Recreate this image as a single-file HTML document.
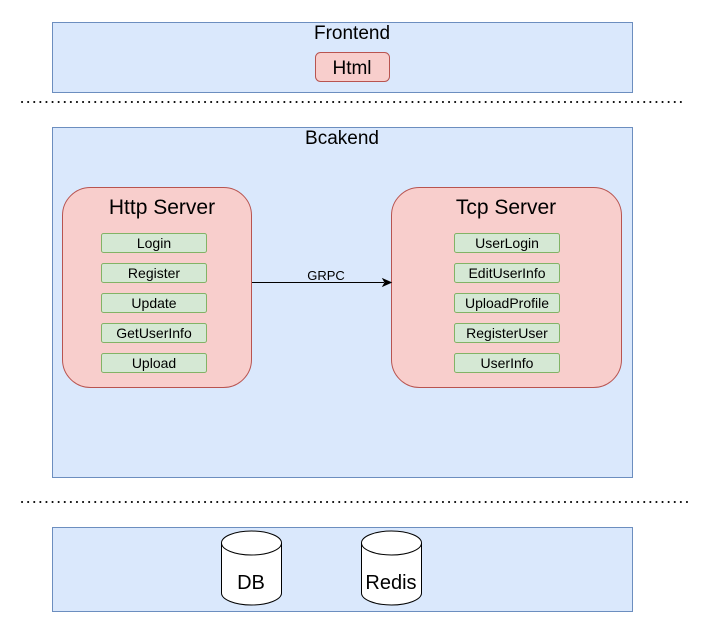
<!DOCTYPE html>
<html><head><meta charset="utf-8"><style>
body{margin:0;background:#fff;}
svg text{font-family:"Liberation Sans",Arial,sans-serif;}
</style></head><body>
<svg width="713" height="633" viewBox="0 0 713 633" xmlns="http://www.w3.org/2000/svg">
<rect x="52.5" y="22.5" width="580" height="70" fill="#dae8fc" stroke="#6c8ebf"/>
<text x="352" y="39" font-size="19" text-anchor="middle">Frontend</text>
<rect x="315.5" y="52.5" width="74" height="29" rx="5" fill="#f8cecc" stroke="#b85450"/>
<text x="352" y="74" font-size="19" text-anchor="middle">Html</text>
<line x1="22" y1="102" x2="684" y2="102" stroke="#000" stroke-width="2" stroke-dasharray="0.1 6" stroke-linecap="round"/>
<rect x="52.5" y="127.5" width="580" height="350" fill="#dae8fc" stroke="#6c8ebf"/>
<text x="342" y="144" font-size="19" text-anchor="middle">Bcakend</text>
<rect x="62.5" y="187.5" width="189" height="200" rx="28" fill="#f8cecc" stroke="#b85450"/>
<text x="162" y="214" font-size="21" text-anchor="middle">Http Server</text>
<g font-size="14" text-anchor="middle">
<rect x="101.5" y="233.5" width="105" height="19" rx="2" fill="#d5e8d4" stroke="#82b366"/><text x="154" y="248">Login</text>
<rect x="101.5" y="263.5" width="105" height="19" rx="2" fill="#d5e8d4" stroke="#82b366"/><text x="154" y="278">Register</text>
<rect x="101.5" y="293.5" width="105" height="19" rx="2" fill="#d5e8d4" stroke="#82b366"/><text x="154" y="308">Update</text>
<rect x="101.5" y="323.5" width="105" height="19" rx="2" fill="#d5e8d4" stroke="#82b366"/><text x="154" y="338">GetUserInfo</text>
<rect x="101.5" y="353.5" width="105" height="19" rx="2" fill="#d5e8d4" stroke="#82b366"/><text x="154" y="368">Upload</text>
</g>
<rect x="391.5" y="187.5" width="230" height="200" rx="28" fill="#f8cecc" stroke="#b85450"/>
<text x="506" y="214" font-size="21" text-anchor="middle">Tcp Server</text>
<g font-size="14" text-anchor="middle">
<rect x="454.5" y="233.5" width="105" height="19" rx="2" fill="#d5e8d4" stroke="#82b366"/><text x="507" y="248">UserLogin</text>
<rect x="454.5" y="263.5" width="105" height="19" rx="2" fill="#d5e8d4" stroke="#82b366"/><text x="507" y="278">EditUserInfo</text>
<rect x="454.5" y="293.5" width="105" height="19" rx="2" fill="#d5e8d4" stroke="#82b366"/><text x="507" y="308">UploadProfile</text>
<rect x="454.5" y="323.5" width="105" height="19" rx="2" fill="#d5e8d4" stroke="#82b366"/><text x="507" y="338">RegisterUser</text>
<rect x="454.5" y="353.5" width="105" height="19" rx="2" fill="#d5e8d4" stroke="#82b366"/><text x="507" y="368">UserInfo</text>
</g>
<line x1="252" y1="282.5" x2="384" y2="282.5" stroke="#000"/>
<path d="M391 282.5 L383 279 L385 282.5 L383 286 Z" fill="#000" stroke="#000"/>
<text x="326" y="280" font-size="13" text-anchor="middle">GRPC</text>
<line x1="22" y1="502" x2="690" y2="502" stroke="#000" stroke-width="2" stroke-dasharray="0.1 6" stroke-linecap="round"/>
<rect x="52.5" y="527.5" width="580" height="84" fill="#dae8fc" stroke="#6c8ebf"/>
<g fill="#fff" stroke="#000">
<path d="M221.5 543 A30 12 0 0 1 281.5 543 L281.5 593 A30 12 0 0 1 221.5 593 Z"/>
<path d="M221.5 543 A30 12 0 0 0 281.5 543"/>
<path d="M361.5 543 A30 12 0 0 1 421.5 543 L421.5 593 A30 12 0 0 1 361.5 593 Z"/>
<path d="M361.5 543 A30 12 0 0 0 421.5 543"/>
</g>
<text x="251" y="589" font-size="20" text-anchor="middle">DB</text>
<text x="391" y="589" font-size="20" text-anchor="middle">Redis</text>
</svg>
</body></html>
